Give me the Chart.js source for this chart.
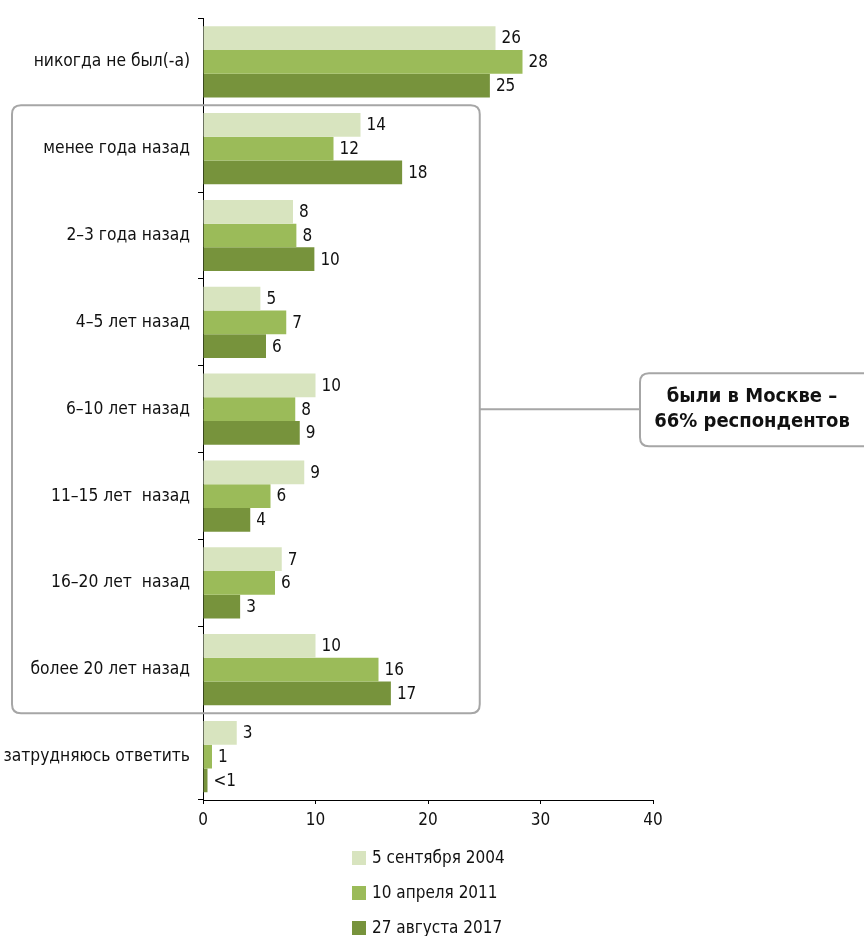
<!DOCTYPE html>
<html>
<head>
<meta charset="utf-8">
<script src="https://cdn.jsdelivr.net/npm/chart.js@4"></script>
<style>
  body { margin: 0; background: #fff; }
  #wrap { width: 864px; height: 936px; }
</style>
</head>
<body>
<div id="wrap"><canvas id="myChart" width="864" height="936"></canvas></div>
<script>
var FONT = '"Liberation Sans Narrow", "DejaVu Sans Condensed", "Noto Sans", sans-serif';

var categories = ['никогда не был(-а)', 'менее года назад', '2–3 года назад', '4–5 лет назад',
    '6–10 лет назад', '11–15 лет  назад', '16–20 лет  назад', 'более 20 лет назад', 'затрудняюсь ответить'];
var seriesNames = ['5 сентября 2004', '10 апреля 2011', '27 августа 2017'];
var colors = ['#d8e4bf', '#9bbb59', '#77933c'];

var values2004 = [26.0, 14.0, 8.0, 5.1, 10.0, 9.0, 7.0, 10.0, 3.0];
var values2011 = [28.4, 11.6, 8.3, 7.4, 8.2, 6.0, 6.4, 15.6, 0.8];
var values2017 = [25.5, 17.7, 9.9, 5.6, 8.6, 4.2, 3.3, 16.7, 0.4];

var labels2004 = ['26', '14', '8', '5', '10', '9', '7', '10', '3'];
var labels2011 = ['28', '12', '8', '7', '8', '6', '6', '16', '1'];
var labels2017 = ['25', '18', '10', '6', '9', '4', '3', '17', '<1'];

var xTicks = [0, 10, 20, 30, 40];
var calloutText = ['были в Москве –', '66% респондентов'];

var ctx = document.getElementById('myChart').getContext('2d');

var valueLabels = {
    id: 'valueLabels',
    afterDatasetsDraw: function (chart) {
        var c = chart.ctx;
        var all = [labels2004, labels2011, labels2017];
        c.save();
        c.font = '17px ' + FONT;
        c.fillStyle = '#111';
        c.textBaseline = 'middle';
        c.textAlign = 'left';
        chart.data.datasets.forEach(function (ds, i) {
            chart.getDatasetMeta(i).data.forEach(function (bar, j) {
                c.fillText(all[i][j], bar.x + 6, bar.y + 1);
            });
        });
        c.restore();
    }
};

function roundRect(c, x, y, w, h, r) {
    c.beginPath();
    c.moveTo(x + r, y);
    c.lineTo(x + w - r, y);
    c.quadraticCurveTo(x + w, y, x + w, y + r);
    c.lineTo(x + w, y + h - r);
    c.quadraticCurveTo(x + w, y + h, x + w - r, y + h);
    c.lineTo(x + r, y + h);
    c.quadraticCurveTo(x, y + h, x, y + h - r);
    c.lineTo(x, y + r);
    c.quadraticCurveTo(x, y, x + r, y);
    c.closePath();
}

var callout = {
    id: 'callout',
    afterDraw: function (chart) {
        var c = chart.ctx;
        var y = chart.scales.y;
        var half = (y.getPixelForValue(1) - y.getPixelForValue(0)) / 2;
        var top = y.getPixelForValue(1) - half;
        var bottom = y.getPixelForValue(7) + half;
        var right = chart.scales.x.getPixelForValue(24.6);
        var mid = (top + bottom) / 2;
        c.save();
        c.strokeStyle = '#a6a6a6';
        c.lineWidth = 2;
        roundRect(c, 12, top, right - 12, bottom - top, 9);
        c.stroke();
        c.beginPath();
        c.moveTo(right, mid);
        c.lineTo(640, mid);
        c.stroke();
        roundRect(c, 640, mid - 36, 240, 73, 9);
        c.fillStyle = '#fff';
        c.fill();
        c.stroke();
        c.fillStyle = '#111';
        c.font = 'bold 20px ' + FONT;
        c.textAlign = 'center';
        c.textBaseline = 'middle';
        c.fillText(calloutText[0], 752, mid - 12);
        c.fillText(calloutText[1], 752, mid + 13);

        // legend
        c.font = '17px ' + FONT;
        c.textAlign = 'left';
        seriesNames.forEach(function (name, i) {
            var ly = 858 + i * 35;
            c.fillStyle = colors[i];
            c.fillRect(352, ly - 7, 14, 14);
            c.fillStyle = '#111';
            c.fillText(name, 372, ly + 1);
        });
        c.restore();
    }
};

var mychart = new Chart(ctx, {
    type: 'bar',
    data: {
        labels: categories,
        datasets: [
            { label: seriesNames[0], data: values2004, backgroundColor: colors[0] },
            { label: seriesNames[1], data: values2011, backgroundColor: colors[1] },
            { label: seriesNames[2], data: values2017, backgroundColor: colors[2] }
        ]
    },
    options: {
        indexAxis: 'y',
        responsive: false,
        animation: false,
        layout: { padding: { top: 15, right: 211, bottom: 96, left: 0 } },
        datasets: { bar: { categoryPercentage: 0.82, barPercentage: 1.0 } },
        plugins: { legend: { display: false }, tooltip: { enabled: false } },
        scales: {
            x: {
                min: 0, max: 40,
                afterFit: function (s) { s.height = 40; },
                afterBuildTicks: function (s) { s.ticks = xTicks.map(function (v) { return { value: v }; }); },
                border: { color: '#000', width: 1 },
                grid: { drawOnChartArea: false, color: '#000', tickLength: 4 },
                ticks: { color: '#111', font: { size: 17, family: FONT }, padding: 6 }
            },
            y: {
                afterFit: function (s) { s.width = 203; },
                border: { color: '#000', width: 1 },
                grid: { drawOnChartArea: false, color: '#000', tickLength: 5, offset: true },
                ticks: { color: '#111', font: { size: 17.3, family: FONT }, padding: 8 }
            }
        }
    },
    plugins: [valueLabels, callout]
});
</script>
</body>
</html>
